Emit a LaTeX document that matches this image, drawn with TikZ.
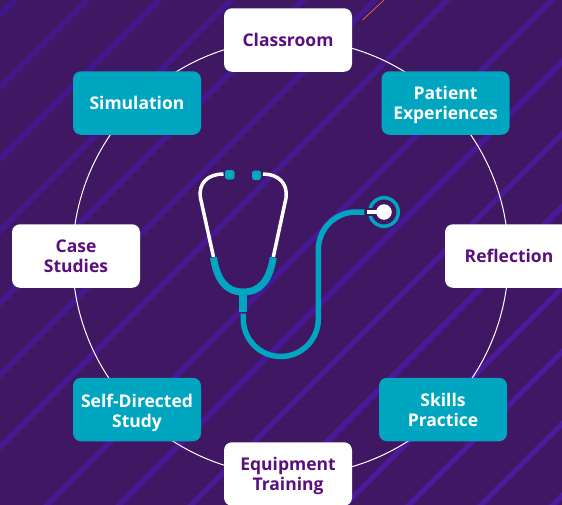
\documentclass[tikz,border=0pt]{standalone}
\usepackage{fontspec}
\setmainfont{Open Sans}
\usepackage{tikz}
\definecolor{bgpurple}{HTML}{3F1763}
\definecolor{stripelo}{HTML}{40178A}
\definecolor{stripehi}{HTML}{4E1A9C}
\definecolor{tealbox}{HTML}{00A5BF}
\definecolor{textpurple}{HTML}{5B0F7D}
\definecolor{sparkorange}{HTML}{E8703A}
\newcommand*\boxwd{128pt}
\newcommand*\boxht{63.5pt}
\tikzset{
    cell/.style      = {rectangle, rounded corners=8pt, minimum width=\boxwd, minimum height=\boxht,
                       inner sep=0pt, outer sep=0pt, align=center,
                       font=\fontsize{17.5}{20}\selectfont\bfseries},
    whitecell/.style = {cell,fill=white,text=textpurple},
    tealcell/.style  = {cell,fill=tealbox,text=white},
    ringline/.style  = {draw=white,line width=1pt,circle,minimum size=436pt,inner sep=0pt},
    tealtube/.style  = {draw=tealbox,line width=5.5pt},
    whitetube/.style = {draw=white,line width=3.5pt},
    tealyoke/.style  = {draw=tealbox,line width=7pt},
}
\begin{document}
\begin{tikzpicture}[x=1pt,y=-1pt]
    \useasboundingbox (0,0) rectangle (562,504);
    \fill[bgpurple] (-3,-3) rectangle (565,507);

    % Diagonal stripes, each one given by x+y, a little lighter towards the bottom
    \foreach \c in {15,87,159,231,303,375,447,552,624,696,769,850,914,986,1058} {
        \pgfmathsetmacro\mix{min(100,\c/10)}
        \draw[stripehi!\mix!stripelo,line width=5.5pt] (\c+20,-20) -- (\c-524,524);
    }
    \draw[sparkorange,line width=0.7pt] (384,0) -- (362.5,20);

    % Big circle behind the boxes
    \node[ringline] (ring) at (290.5,257.5) {};

    % The boxes round the circle
    \node[whitecell] (classroom)  at (288,40)      {Classroom};
    \node[tealcell,text height=38pt]  (patient)    at (445.5,103)   {Patient\\Experiences};
    \node[whitecell] (reflection) at (509,256)     {Reflection};
    \node[tealcell]  (skills)     at (443,409.5)   {Skills\\Practice};
    \node[whitecell,text height=37pt] (equipment)  at (288,474)     {Equipment\\Training};
    \node[tealcell,text height=41pt]  (selfstudy)  at (137,409.5)   {Self-Directed\\Study};
    \node[whitecell] (casestudy)  at (76,256)      {Case\\Studies};
    \node[tealcell]  (simulation) at (137,103)     {Simulation};

    % Stethoscope: ear tubes
    \draw[whitetube] (223.5,174) .. controls (208,174) and (198,183) .. (200.5,198) -- (213.5,257);
    \draw[whitetube] (263,174) .. controls (278,174) and (288,183) .. (286,198) -- (273.3,257);
    \fill[tealbox,rounded corners=2.5pt] (225,170) rectangle (234.5,179.5);
    \fill[tealbox,rounded corners=2.5pt] (252,170.5) rectangle (261,180);

    % Stethoscope: yoke and stem
    \draw[tealyoke] (213.5,257.5) .. controls (217,280) and (226,292) .. (243.3,292)
                    .. controls (260.5,292) and (269.5,280) .. (273.3,257.5);
    \draw[draw=tealbox,line width=8pt] (243.3,292) -- (243.3,311.5);

    % Stethoscope: long tube
    \draw[tealtube] (243.3,313.5) -- (243.3,319) .. controls (243.3,339.7) and (260.1,356.5) .. (280.8,356.5)
                    .. controls (301.5,356.5) and (318.3,339.7) .. (318.3,319) -- (318.3,250)
                    .. controls (318.3,229) and (335,212) .. (356,212) -- (364.3,212);

    % Stethoscope: chest piece
    \node[circle,draw=tealbox,line width=3.5pt,minimum size=28.5pt,inner sep=0pt] (head) at (384,212) {};
    \draw[bgpurple,line width=7.5pt] (365.5,212) -- (376,212);
    \draw[white,line width=4.5pt] (366.5,212) -- (380,212);
    \node[circle,fill=white,minimum size=15.5pt,inner sep=0pt] (disc) at (384,212) {};
\end{tikzpicture}
\end{document}
